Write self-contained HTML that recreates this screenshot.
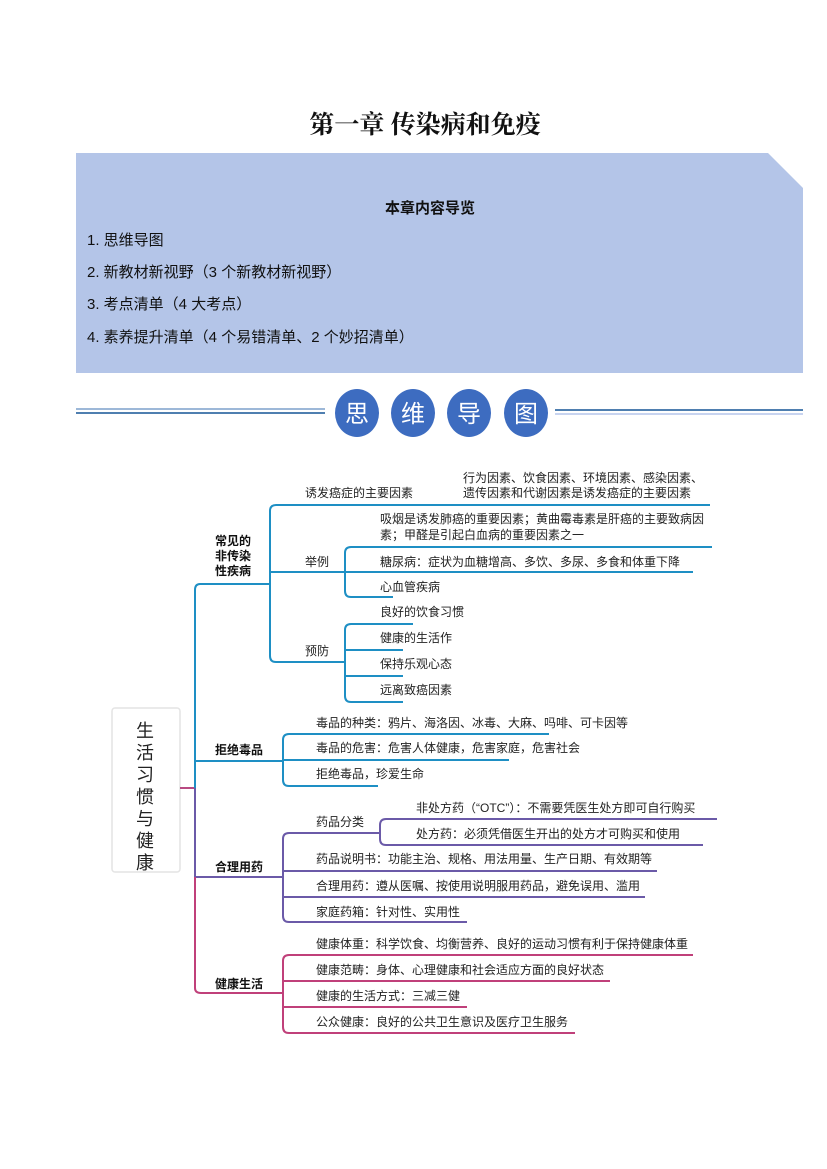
<!DOCTYPE html>
<html><head><meta charset="utf-8"><style>
html,body{margin:0;padding:0;background:#fff;}
svg{display:block;}
text{font-family:"Liberation Sans","Noto Sans CJK SC",sans-serif;}
.s{font-size:12px;fill:#222;}
.b{font-size:12px;fill:#111;font-weight:bold;}
</style></head><body>
<svg width="827" height="1169" viewBox="0 0 827 1169" xmlns="http://www.w3.org/2000/svg">
<text x="425" y="133" text-anchor="middle" style="font-family:'Liberation Serif','Noto Serif CJK SC',serif;font-size:25px;font-weight:bold;fill:#111">第一章  传染病和免疫</text>
<polygon points="76,153 768,153 803,188 803,373 76,373" fill="#b4c5e8"/>
<text x="430" y="213" text-anchor="middle" style="font-size:15px;font-weight:bold;fill:#111;font-family:'Liberation Sans','Noto Sans CJK SC',sans-serif">本章内容导览</text>
<g style="font-size:15px;fill:#111">
<text x="87" y="245">1. 思维导图</text>
<text x="87" y="277">2. 新教材新视野（3 个新教材新视野）</text>
<text x="87" y="309">3. 考点清单（4 大考点）</text>
<text x="87" y="342">4. 素养提升清单（4 个易错清单、2 个妙招清单）</text>
</g>
<g stroke-width="2">
<line x1="76" y1="409" x2="325" y2="409" stroke="#9db8d8"/>
<line x1="76" y1="413" x2="325" y2="413" stroke="#4f7fb0"/>
<line x1="555" y1="410" x2="803" y2="410" stroke="#4f7fb0"/>
<line x1="555" y1="414" x2="803" y2="414" stroke="#c8d4f0"/>
</g>
<g fill="#3d6cc0">
<ellipse cx="357" cy="413" rx="22" ry="24"/><ellipse cx="413" cy="413" rx="22" ry="24"/>
<ellipse cx="469" cy="413" rx="22" ry="24"/><ellipse cx="526" cy="413" rx="22" ry="24"/>
</g>
<g style="font-size:24px;fill:#fff" text-anchor="middle">
<text x="357" y="422">思</text><text x="413" y="422">维</text><text x="469" y="422">导</text><text x="526" y="422">图</text>
</g>
<rect x="112" y="708" width="68" height="164" rx="3" fill="#fff" stroke="#e4e4e4" stroke-width="1.5"/>
<g style="font-size:18px;fill:#222" text-anchor="middle">
<text x="145" y="737">生</text><text x="145" y="759">活</text><text x="145" y="781">习</text><text x="145" y="803">惯</text><text x="145" y="825">与</text><text x="145" y="847">健</text><text x="145" y="869">康</text>
</g>
<g fill="none" stroke-width="2">
<path d="M180 788 H195" stroke="#b84a82"/>
<path d="M270 584 H200 Q195 584 195 590 V788" stroke="#1e8fc4"/>
<path d="M195 761 H283" stroke="#1e8fc4"/>
<path d="M195 788 V877" stroke="#6b5aa8"/>
<path d="M195 877 H283" stroke="#6b5aa8"/>
<path d="M195 877 V988 Q195 993 201 993 H283" stroke="#c0407a"/>
<g stroke="#1e8fc4">
<path d="M710 505 H276 Q270 505 270 511 V656 Q270 662 276 662 H345"/>
<path d="M270 572 H345"/>
<path d="M712 547 H351 Q345 547 345 553 V591 Q345 597 351 597 H393"/>
<path d="M345 572 H693"/>
<path d="M413 624 H351 Q345 624 345 630 V696 Q345 702 351 702 H403"/>
<path d="M345 650 H403"/><path d="M345 676 H403"/>
<path d="M549 734 H289 Q283 734 283 740 V780 Q283 786 289 786 H378"/>
<path d="M283 760 H509"/>
</g>
<g stroke="#6b5aa8">
<path d="M336 833 H289 Q283 833 283 839 V916 Q283 922 289 922 H467"/>
<path d="M283 871 H657"/><path d="M283 897 H645"/>
<path d="M717 819 H386 Q380 819 380 825 V839 Q380 845 386 845 H703"/>
<path d="M336 833 H380"/>
</g>
<g stroke="#c0407a">
<path d="M693 955 H289 Q283 955 283 961 V1027 Q283 1033 289 1033 H575"/>
<path d="M283 981 H610"/><path d="M283 1007 H467"/>
</g>
</g>
<text class="b" x="215" y="545">常见的</text>
<text class="b" x="215" y="560">非传染</text>
<text class="b" x="215" y="575">性疾病</text>
<text class="b" x="215" y="754">拒绝毒品</text>
<text class="b" x="215" y="871">合理用药</text>
<text class="b" x="215" y="988">健康生活</text>
<text class="s" x="305" y="497">诱发癌症的主要因素</text>
<text class="s" x="463" y="482">行为因素、饮食因素、环境因素、感染因素、</text>
<text class="s" x="463" y="497">遗传因素和代谢因素是诱发癌症的主要因素</text>
<text class="s" x="305" y="566">举例</text>
<text class="s" x="380" y="523">吸烟是诱发肺癌的重要因素；黄曲霉毒素是肝癌的主要致病因</text>
<text class="s" x="380" y="539">素；甲醛是引起白血病的重要因素之一</text>
<text class="s" x="380" y="566">糖尿病：症状为血糖增高、多饮、多尿、多食和体重下降</text>
<text class="s" x="380" y="591">心血管疾病</text>
<text class="s" x="305" y="655">预防</text>
<text class="s" x="380" y="616">良好的饮食习惯</text>
<text class="s" x="380" y="642">健康的生活作</text>
<text class="s" x="380" y="668">保持乐观心态</text>
<text class="s" x="380" y="694">远离致癌因素</text>
<text class="s" x="316" y="727">毒品的种类：鸦片、海洛因、冰毒、大麻、吗啡、可卡因等</text>
<text class="s" x="316" y="752">毒品的危害：危害人体健康，危害家庭，危害社会</text>
<text class="s" x="316" y="778">拒绝毒品，珍爱生命</text>
<text class="s" x="316" y="826">药品分类</text>
<text class="s" x="416" y="812">非处方药（“OTC”）：不需要凭医生处方即可自行购买</text>
<text class="s" x="416" y="838">处方药：必须凭借医生开出的处方才可购买和使用</text>
<text class="s" x="316" y="863">药品说明书：功能主治、规格、用法用量、生产日期、有效期等</text>
<text class="s" x="316" y="890">合理用药：遵从医嘱、按使用说明服用药品，避免误用、滥用</text>
<text class="s" x="316" y="916">家庭药箱：针对性、实用性</text>
<text class="s" x="316" y="948">健康体重：科学饮食、均衡营养、良好的运动习惯有利于保持健康体重</text>
<text class="s" x="316" y="974">健康范畴：身体、心理健康和社会适应方面的良好状态</text>
<text class="s" x="316" y="1000">健康的生活方式：三减三健</text>
<text class="s" x="316" y="1026">公众健康：良好的公共卫生意识及医疗卫生服务</text>
</svg>
</body></html>
